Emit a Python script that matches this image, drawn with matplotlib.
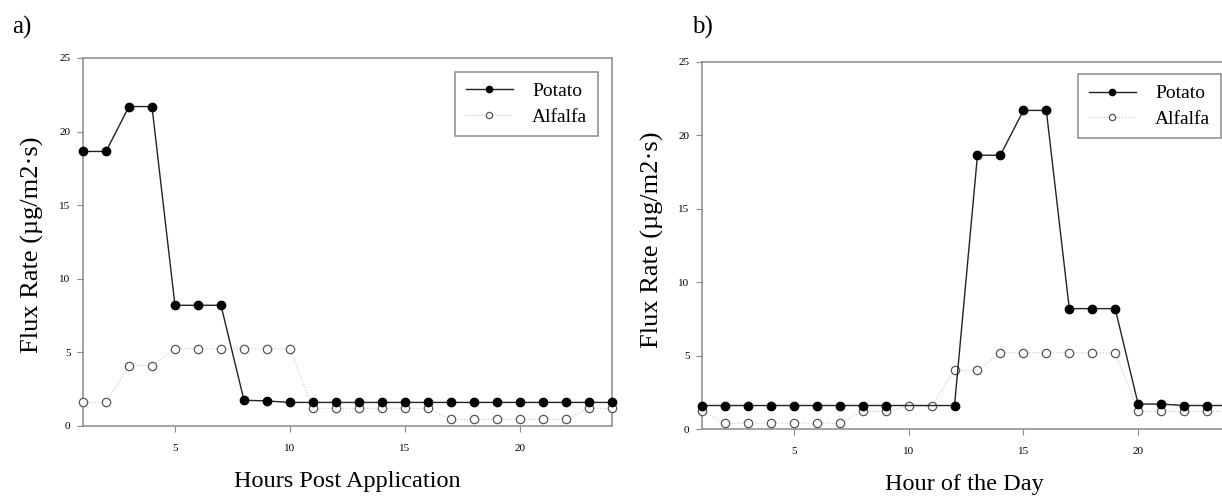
import numpy as np
import matplotlib
matplotlib.use('Agg')
import matplotlib.pyplot as plt

plt.rcParams['font.family'] = ['Liberation Serif', 'DejaVu Serif']

hours = list(range(1, 25))

# a) hours post application
potato_a = [18.65, 18.65, 21.7, 21.7, 8.2, 8.2, 8.2, 1.75, 1.7, 1.6,
            1.6, 1.6, 1.6, 1.6, 1.6, 1.6, 1.6, 1.6, 1.6, 1.6,
            1.6, 1.6, 1.6, 1.6]
alfalfa_a = [1.6, 1.6, 4.1, 4.1, 5.25, 5.25, 5.25, 5.25, 5.25, 5.25,
             1.2, 1.2, 1.2, 1.2, 1.2, 1.2, 0.45, 0.45, 0.45, 0.45,
             0.45, 0.45, 1.2, 1.2]

# b) hour of the day
potato_b = [1.6, 1.6, 1.6, 1.6, 1.6, 1.6, 1.6, 1.6, 1.6, 1.6,
            1.6, 1.6, 18.65, 18.65, 21.7, 21.7, 8.2, 8.2, 8.2, 1.7,
            1.7, 1.6, 1.6, 1.6]
alfalfa_b = [1.2, 0.4, 0.4, 0.4, 0.4, 0.4, 0.4, 1.2, 1.2, 1.55,
             1.55, 4.0, 4.0, 5.2, 5.2, 5.2, 5.2, 5.2, 5.2, 1.2,
             1.2, 1.2, 1.2, 1.2]

xticks = [5, 10, 15, 20]
yticks = [0, 5, 10, 15, 20, 25]

fig = plt.figure(figsize=(12.22, 4.97), dpi=100)
ax_a = fig.add_axes([0.0679, 0.1429, 0.4329, 0.7404])
ax_b = fig.add_axes([0.5745, 0.1368, 0.4320, 0.7385])


def draw_panel(ax, potato, alfalfa, leg_anchor, hidden=()):
    # potato markers hidden behind alfalfa circles where they coincide
    shown = [i for i in range(len(hours)) if i not in hidden]
    ax.plot(hours, alfalfa, linestyle=':', color='#c8c8c8', lw=0.8,
            marker='o', ms=6, mfc='white', mec='#555555', mew=0.9,
            label='Alfalfa', clip_on=False, zorder=3)
    ax.plot(hours, potato, '-', color='#222222', lw=1.0,
            marker='o', ms=6, mfc='black', mec='black', markevery=shown,
            label='Potato', clip_on=False, zorder=4)
    ax.set_xlim(1, 24)
    ax.set_ylim(0, 25)
    ax.set_xticks(xticks)
    ax.set_yticks(yticks)
    for sp in ax.spines.values():
        sp.set_color('#8a8a8a')
        sp.set_linewidth(1.1)
    ax.tick_params(axis='x', direction='out', length=4, width=0.8,
                   color='#8a8a8a', labelsize=8, pad=9)
    ax.tick_params(axis='y', direction='out', length=4, width=0.8,
                   color='#8a8a8a', labelsize=8, pad=5)
    h, l = ax.get_legend_handles_labels()
    leg = ax.legend(h[::-1], l[::-1], loc='upper right',
                    bbox_to_anchor=leg_anchor, borderaxespad=0,
                    fontsize=14, fancybox=False, framealpha=1,
                    edgecolor='#8a8a8a', handlelength=2.4,
                    borderpad=0.55, labelspacing=0.4, handletextpad=1.0,
                    markerscale=0.75)
    leg.get_frame().set_linewidth(1.1)


draw_panel(ax_a, potato_a, alfalfa_a, (0.9735, 0.962))
draw_panel(ax_b, potato_b, alfalfa_b, (0.983, 0.967), hidden=(9, 10))

fig.text(0.0262, 0.507, 'Flux Rate (\u00b5g/m2\u00b7s)', rotation=90,
         ha='center', va='center', fontsize=19)
fig.text(0.5336, 0.517, 'Flux Rate (\u00b5g/m2\u00b7s)', rotation=90,
         ha='center', va='center', fontsize=19)
fig.text(347 / 1222, 0.032, 'Hours Post Application',
         ha='center', va='center', fontsize=17.5)
fig.text(964 / 1222, 0.026, 'Hour of the Day',
         ha='center', va='center', fontsize=17.5)
fig.text(0.010, 0.945, 'a)', ha='left', va='center', fontsize=18)
fig.text(0.566, 0.945, 'b)', ha='left', va='center', fontsize=18)

fig.savefig('out.png', dpi=100)
